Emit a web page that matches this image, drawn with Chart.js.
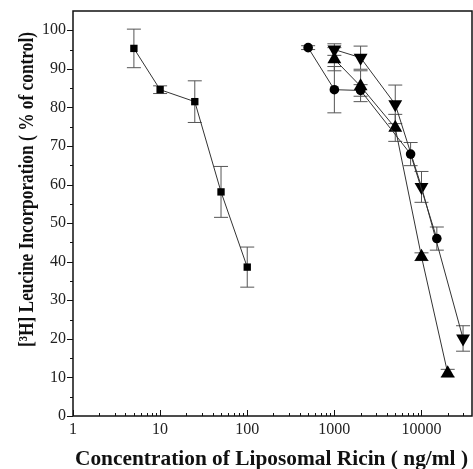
<!DOCTYPE html>
<html>
<head>
<meta charset="utf-8">
<script src="https://cdn.jsdelivr.net/npm/chart.js@4.4.1/dist/chart.umd.min.js"></script>
<style>
  html, body { margin: 0; padding: 0; background: #fff; }
  #wrap { width: 473px; height: 469px; }
</style>
</head>
<body>
<div id="wrap"><canvas id="chart" width="473" height="469"></canvas></div>
<script>
// ricin concentration (ng/ml) and leucine incorporation (% of control)
const freeConc = [5, 10, 25, 50, 100];
const freeVal = [95.3, 84.6, 81.5, 58.1, 38.6];
const freeErr = [5, 1, 5.4, 6.6, 5.2];

const circConc = [500, 1000, 2000, 7500, 15000];
const circVal = [95.5, 84.6, 84.4, 67.9, 46.0];
const circErr = [0.5, 6, 1.5, 3, 3];

const downConc = [1000, 2000, 5000, 10000, 30000];
const downVal = [95.0, 92.9, 80.8, 59.4, 20.1];
const downErr = [1.5, 3, 5, 4, 3.3];

const upConc = [1000, 2000, 5000, 10000, 20000];
const upVal = [92.5, 85.5, 74.7, 41.3, 11.1];
const upErr = [3, 4, 3.5, 1, 1];

const xTickValues = [1, 10, 100, 1000, 10000];
const yTickValues = [0, 10, 20, 30, 40, 50, 60, 70, 80, 90, 100];
const xTitle = 'Concentration of Liposomal Ricin ( ng/ml )';
const yTitle = '[\u00B3H] Leucine Incorporation ( % of control)';

const toPoints = (xs, ys) => xs.map((x, i) => ({ x: x, y: ys[i] }));
const errors = [freeErr, circErr, downErr, upErr];

const serif = "'Liberation Serif', 'Times New Roman', serif";

const decorations = {
  id: 'decorations',
  beforeDatasetsDraw(chart) {
    const ctx = chart.ctx;
    const xs = chart.scales.x, ys = chart.scales.y;
    ctx.save();
    ctx.strokeStyle = '#555';
    ctx.lineWidth = 1;
    chart.data.datasets.forEach((ds, i) => {
      ds.data.forEach((p, j) => {
        const e = errors[i][j];
        const px = xs.getPixelForValue(p.x);
        const top = ys.getPixelForValue(p.y + e);
        const bot = ys.getPixelForValue(p.y - e);
        ctx.beginPath();
        ctx.moveTo(px, top); ctx.lineTo(px, bot);
        ctx.moveTo(px - 7, top); ctx.lineTo(px + 7, top);
        ctx.moveTo(px - 7, bot); ctx.lineTo(px + 7, bot);
        ctx.stroke();
      });
    });
    ctx.restore();
  },
  afterDraw(chart) {
    const ctx = chart.ctx;
    const a = chart.chartArea;
    const xs = chart.scales.x, ys = chart.scales.y;
    ctx.save();
    ctx.strokeStyle = '#111';
    ctx.lineWidth = 1.5;
    ctx.strokeRect(a.left, a.top, a.right - a.left, a.bottom - a.top);

    // y ticks, outside
    ctx.lineWidth = 1;
    ctx.beginPath();
    for (let v = 0; v <= 100; v += 5) {
      const py = Math.round(ys.getPixelForValue(v)) + 0.5;
      const len = v % 10 === 0 ? 6 : 3;
      ctx.moveTo(a.left - len, py); ctx.lineTo(a.left, py);
    }
    // x ticks, inside
    for (let d = 1; d <= 10000; d *= 10) {
      for (let k = 1; k <= 9; k++) {
        const v = d * k;
        if (v > xs.max) break;
        const px = Math.round(xs.getPixelForValue(v)) + 0.5;
        const len = k === 1 ? 6 : 3;
        ctx.moveTo(px, a.bottom); ctx.lineTo(px, a.bottom - len);
      }
    }
    ctx.stroke();

    // axis titles, squeezed to the width they have in the figure
    ctx.fillStyle = '#111';
    ctx.textAlign = 'left';
    ctx.textBaseline = 'alphabetic';
    ctx.font = 'bold 21px ' + serif;

    ctx.save();
    ctx.translate(75, 465);
    ctx.scale(393 / ctx.measureText(xTitle).width, 1);
    ctx.fillText(xTitle, 0, 0);
    ctx.restore();

    ctx.save();
    ctx.translate(33, 347);
    ctx.rotate(-Math.PI / 2);
    ctx.scale(315 / ctx.measureText(yTitle).width, 1);
    ctx.fillText(yTitle, 0, 0);
    ctx.restore();

    ctx.restore();
  }
};

const lineStyle = {
  showLine: true,
  borderColor: '#333',
  borderWidth: 1,
  pointBackgroundColor: '#000',
  pointBorderColor: '#000',
  pointBorderWidth: 0,
};

new Chart(document.getElementById('chart'), {
  type: 'scatter',
  data: {
    datasets: [
      { ...lineStyle, label: 'free', data: toPoints(freeConc, freeVal), pointStyle: 'rect', pointRadius: 5.2 },
      { ...lineStyle, label: 'circle', data: toPoints(circConc, circVal), pointStyle: 'circle', pointRadius: 4.8 },
      { ...lineStyle, label: 'down', data: toPoints(downConc, downVal), pointStyle: 'triangle', pointRotation: 180, pointRadius: 8 },
      { ...lineStyle, label: 'up', data: toPoints(upConc, upVal), pointStyle: 'triangle', pointRadius: 8 },
    ],
  },
  options: {
    responsive: false,
    animation: false,
    layout: { autoPadding: false, padding: { top: 11, right: 1, left: 0, bottom: 0 } },
    plugins: {
      legend: { display: false },
      tooltip: { enabled: false },
    },
    scales: {
      x: {
        type: 'logarithmic',
        min: 1,
        max: 38000,
        grid: { display: false, drawTicks: true, tickLength: 4 },
        border: { display: false },
        afterBuildTicks: (scale) => {
          scale.ticks = xTickValues.map((v) => ({ value: v }));
        },
        afterFit: (scale) => { scale.height = 53; },
        ticks: {
          autoSkip: false,
          maxRotation: 0,
          padding: 0,
          color: '#222',
          font: { family: serif, size: 16 },
          callback: (value) => String(value),
        },
      },
      y: {
        min: 0,
        max: 105,
        grid: { display: false, drawTicks: true, tickLength: 7 },
        border: { display: false },
        afterBuildTicks: (scale) => {
          scale.ticks = yTickValues.map((v) => ({ value: v }));
        },
        afterFit: (scale) => { scale.width = 73; },
        ticks: {
          padding: 0,
          color: '#222',
          font: { family: serif, size: 16 },
        },
      },
    },
  },
  plugins: [decorations],
});
</script>
</body>
</html>
